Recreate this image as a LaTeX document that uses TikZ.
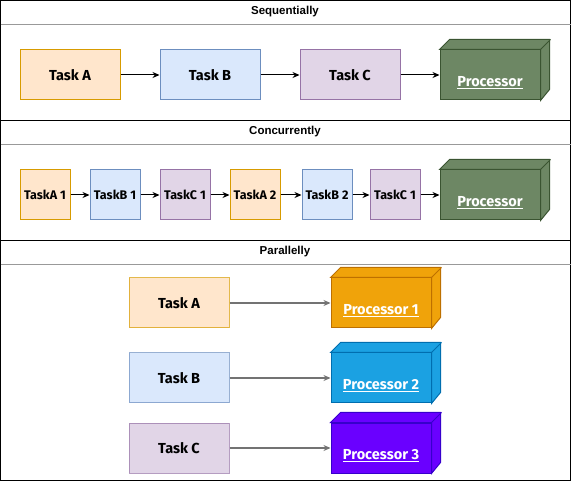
\documentclass[tikz,border=0pt]{standalone}
\usepackage{fontspec}
\setmainfont{Fira Sans}
\newfontfamily\headfont{Liberation Sans}
\usetikzlibrary{arrows.meta}

\definecolor{afill}{HTML}{FFE6CC}
\definecolor{aline}{HTML}{D79B00}
\definecolor{bfill}{HTML}{DAE8FC}
\definecolor{bline}{HTML}{6C8EBF}
\definecolor{cfill}{HTML}{E1D5E7}
\definecolor{cline}{HTML}{9673A6}
\definecolor{gfill}{HTML}{6D8764}
\definecolor{gline}{HTML}{3A5431}
\definecolor{p1fill}{HTML}{F0A30A}
\definecolor{p1line}{HTML}{BD7000}
\definecolor{p2fill}{HTML}{1BA1E2}
\definecolor{p2line}{HTML}{006EAF}
\definecolor{p3fill}{HTML}{6A00FF}
\definecolor{p3line}{HTML}{3700CC}

% top and side face of a processor block
\newcommand{\procfaces}[3]{
\draw[fill=#2, draw=#3, line width=1pt] (#1.north west) -- ++(10,-10) -- ++(100,0) -- ++(0,50) -- (#1.south east) -- (#1.north east) -- cycle;
\draw[#3, line width=1pt] (#1.north east) -- ++(10,-10);
}

\begin{document}
\begin{tikzpicture}[x=1pt, y=-1pt,
  task/.style={draw, rectangle, minimum width=100pt, minimum height=50pt, line width=1pt, font=\fontsize{14.5}{16}\selectfont\bfseries},
  smalltask/.style={task, minimum width=50pt, inner sep=0pt, font=\fontsize{12.5}{14}\selectfont\bfseries},
  proc/.style={draw, rectangle, minimum width=100pt, minimum height=50pt, line width=1pt},
  proctext/.style={text=white, font=\fontsize{14.5}{16}\selectfont\bfseries},
  head/.style={font=\headfont\bfseries\fontsize{11.5}{13}\selectfont},
  arr/.style={-{Stealth[length=7pt, width=6pt]}, line width=1pt},
  faded/.style={draw opacity=0.7}
]
\useasboundingbox (0,0) rectangle (571,481);

% frame and sections
\draw[line width=1pt] (0.5,0.5) rectangle (570.5,480.5);
\draw[line width=1pt] (0.5,120.5) -- (570.5,120.5);
\draw[line width=1pt] (0.5,240.5) -- (570.5,240.5);
\draw[gray!80, line width=1pt] (0.5,24.5) -- (570.5,24.5);
\draw[gray!80, line width=1pt] (0.5,144.5) -- (570.5,144.5);
\draw[gray!80, line width=1pt] (0.5,264.5) -- (570.5,264.5);

\node[head] (seq) at (285,12) {Sequentially};
\node[head] (con) at (285,132) {Concurrently};
\node[head] (par) at (285,252) {Parallelly};

% sequentially
\node[task, fill=afill, draw=aline] (sa) at (70,75) {Task A};
\node[task, fill=bfill, draw=bline] (sb) at (210,75) {Task B};
\node[task, fill=cfill, draw=cline] (sc) at (350,75) {Task C};
\node[proc, fill=gfill, draw=gline] (sp) at (490,75) {};
\procfaces{sp}{gfill}{gline}
\node[proctext] (spt) at ([yshift=-8pt]sp.center) {\underline{Processor}};

\draw[arr] (sa) -- (sb);
\draw[arr] (sb) -- (sc);
\draw[arr] (sc) -- (sp);

% concurrently
\node[smalltask, fill=afill, draw=aline] (ca1) at (45,195) {TaskA 1};
\node[smalltask, fill=bfill, draw=bline] (cb1) at (115,195) {TaskB 1};
\node[smalltask, fill=cfill, draw=cline] (cc1) at (185,195) {TaskC 1};
\node[smalltask, fill=afill, draw=aline] (ca2) at (255,195) {TaskA 2};
\node[smalltask, fill=bfill, draw=bline] (cb2) at (327,195) {TaskB 2};
\node[smalltask, fill=cfill, draw=cline] (cc2) at (395,195) {TaskC 1};
\node[proc, fill=gfill, draw=gline] (cp) at (490,195) {};
\procfaces{cp}{gfill}{gline}
\node[proctext] (cpt) at ([yshift=-8pt]cp.center) {\underline{Processor}};

\draw[arr] (ca1) -- (cb1);
\draw[arr] (cb1) -- (cc1);
\draw[arr] (cc1) -- (ca2);
\draw[arr] (ca2) -- (cb2);
\draw[arr] (cb2) -- (cc2);
\draw[arr] (cc2) -- (cp);

% parallelly
\node[task, faded, fill=afill, draw=aline] (pa) at (179,303) {Task A};
\node[task, faded, fill=bfill, draw=bline] (pb) at (179,378) {Task B};
\node[task, faded, fill=cfill, draw=cline] (pc) at (179,448) {Task C};

\node[proc, fill=p1fill, draw=p1line] (p1) at (381,303) {};
\procfaces{p1}{p1fill}{p1line}
\node[proctext] (p1t) at ([yshift=-8pt]p1.center) {\underline{Processor 1}};
\node[proc, fill=p2fill, draw=p2line] (p2) at (381,378) {};
\procfaces{p2}{p2fill}{p2line}
\node[proctext] (p2t) at ([yshift=-8pt]p2.center) {\underline{Processor 2}};
\node[proc, fill=p3fill, draw=p3line] (p3) at (381,448) {};
\procfaces{p3}{p3fill}{p3line}
\node[proctext] (p3t) at ([yshift=-8pt]p3.center) {\underline{Processor 3}};

\draw[arr, black!55, line width=1.3pt] (pa) -- (p1);
\draw[arr, black!55, line width=1.3pt] (pb) -- (p2);
\draw[arr, black!55, line width=1.3pt] (pc) -- (p3);

\end{tikzpicture}
\end{document}
